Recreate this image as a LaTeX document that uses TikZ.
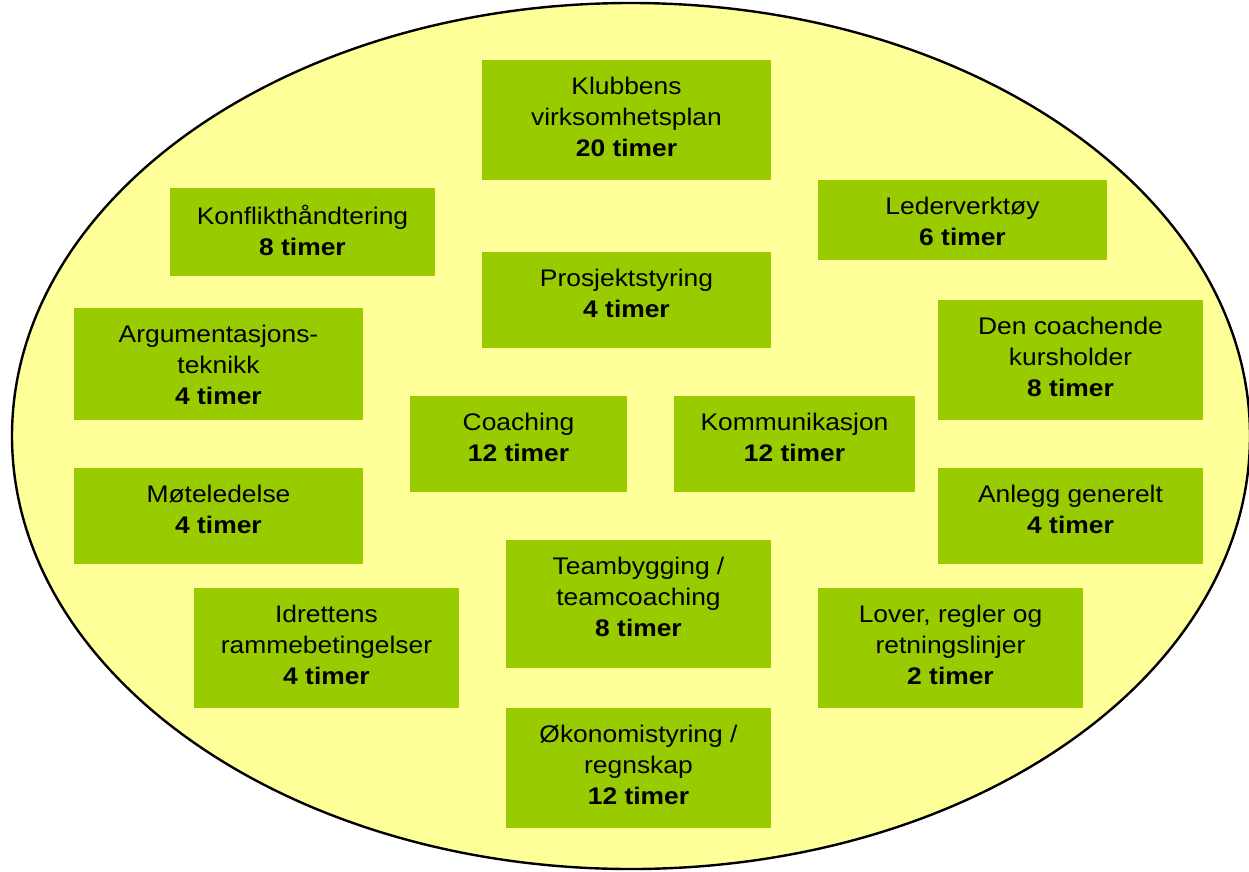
\documentclass[tikz,border=0pt]{standalone}
\usepackage{fontspec}
\setmainfont{Liberation Sans}[FakeStretch=1.1]
\usetikzlibrary{fit,calc,shapes.geometric}
\definecolor{oval}{HTML}{FFFF99}
\definecolor{topic}{HTML}{99CC00}
\tikzset{
  topicbox/.style={fill=topic, draw=none, inner sep=0pt},
  topictext/.style={align=center, inner sep=0pt, anchor=north,
    font=\fontsize{24}{31}\selectfont,
    execute at begin node={\rule{0pt}{20pt}}},
}
% \topic{name}{x1}{y1}{x2}{y2}{text}
\newcommand\topic[6]{%
  \node[topicbox, fit={(#2,#3) (#4,#5)}] (#1) {};
  \node[topictext] (#1-t) at ($(#2,#3)!0.5!(#4,#3)+(0,16.5)$) {#6};
}
\begin{document}
\begin{tikzpicture}[x=1pt, y=-1pt]
  \useasboundingbox (0,0) rectangle (1249,871);
  \begin{scope}
    \clip (0,0) rectangle (1249,871);
    \node[ellipse, draw=black, line width=2.4pt, fill=oval,
      minimum width=1238pt, minimum height=866pt, inner sep=0pt] (oval) at (631,436) {};
  \end{scope}

  \topic{plan}{482}{60}{771}{180}{Klubbens\\virksomhetsplan\\\textbf{20 timer}}
  \topic{konflikt}{170}{188}{435}{276}{Konflikthåndtering\\\textbf{8 timer}}
  \topic{leder}{818}{180}{1107}{260}{Lederverktøy\\\textbf{6 timer}}
  \topic{prosjekt}{482}{252}{771}{348}{Prosjektstyring\\\textbf{4 timer}}
  \topic{argument}{74}{308}{363}{420}{Argumentasjons-\\teknikk\\\textbf{4 timer}}
  \topic{kurs}{938}{300}{1203}{420}{Den coachende\\kursholder\\\textbf{8 timer}}
  \topic{coaching}{410}{396}{627}{492}{Coaching\\\textbf{12 timer}}
  \topic{kommunikasjon}{674}{396}{915}{492}{Kommunikasjon\\\textbf{12 timer}}
  \topic{mote}{74}{468}{363}{564}{Møteledelse\\\textbf{4 timer}}
  \topic{anlegg}{938}{468}{1203}{564}{Anlegg generelt\\\textbf{4 timer}}
  \topic{team}{506}{540}{771}{668}{Teambygging /\\teamcoaching\\\textbf{8 timer}}
  \topic{idrett}{194}{588}{459}{708}{Idrettens\\rammebetingelser\\\textbf{4 timer}}
  \topic{lover}{818}{588}{1083}{708}{Lover, regler og\\retningslinjer\\\textbf{2 timer}}
  \topic{okonomi}{506}{708}{771}{828}{Økonomistyring /\\regnskap\\\textbf{12 timer}}
\end{tikzpicture}
\end{document}
